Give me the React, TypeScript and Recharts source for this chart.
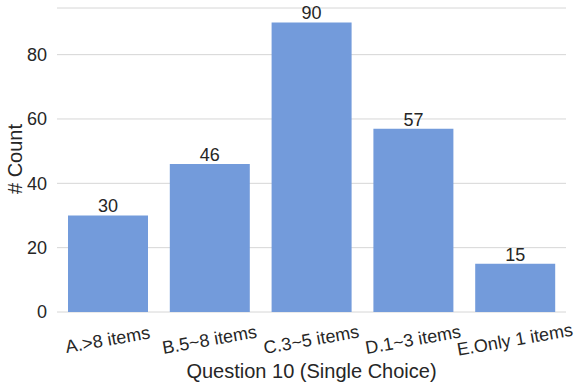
import React from "react";
import { BarChart, Bar, XAxis, YAxis, CartesianGrid, LabelList } from "recharts";

const categories = ["A.>8 items", "B.5~8 items", "C.3~5 items", "D.1~3 items", "E.Only 1 items"];
const counts = [30, 46, 90, 57, 15];
const yTicks = [0, 20, 40, 60, 80];

const data = categories.map((name, i) => ({ name, count: counts[i] }));

const FONT = "'Liberation Sans', Arial, sans-serif";
const TEXT = "#262626";

function RotatedTick(props: any) {
  const { x, y, payload } = props;
  return (
    <g transform={`translate(${x},${y + 21}) rotate(-10)`}>
      <text textAnchor="middle" dominantBaseline="middle" fontSize={18} fill={TEXT} fontFamily={FONT}>
        {payload.value}
      </text>
    </g>
  );
}

export default function App() {
  return (
    <div style={{ position: "absolute", left: 0, top: 0, background: "#fff" }}>
      <BarChart
        width={581}
        height={386}
        data={data}
        margin={{ top: 8, right: 15, left: 0, bottom: 0 }}
      >
        <CartesianGrid horizontal vertical={false} stroke="#d6d6d6" strokeWidth={1} />
        <XAxis
          dataKey="name"
          height={74}
          axisLine={false}
          tickLine={false}
          interval={0}
          tick={<RotatedTick />}
          label={{
            value: "Question 10 (Single Choice)",
            position: "insideBottom",
            offset: 8,
            fontSize: 20,
            fill: TEXT,
            fontFamily: FONT,
          }}
        />
        <YAxis
          width={57}
          domain={[0, 94.5]}
          ticks={yTicks}
          axisLine={false}
          tickLine={false}
          tickSize={0}
          tickMargin={10}
          tick={{ fontSize: 18, fill: TEXT, fontFamily: FONT }}
          label={{
            content: () => (
              <text
                transform="translate(22,159) rotate(-90)"
                textAnchor="middle"
                fontSize={20}
                fill={TEXT}
                fontFamily={FONT}
              >
                # Count
              </text>
            ),
          }}
        />
        <Bar dataKey="count" fill="#739bdb" barSize={80} isAnimationActive={false}>
          <LabelList dataKey="count" position="top" offset={3} fontSize={18} fill={TEXT} fontFamily={FONT} />
        </Bar>
      </BarChart>
    </div>
  );
}
